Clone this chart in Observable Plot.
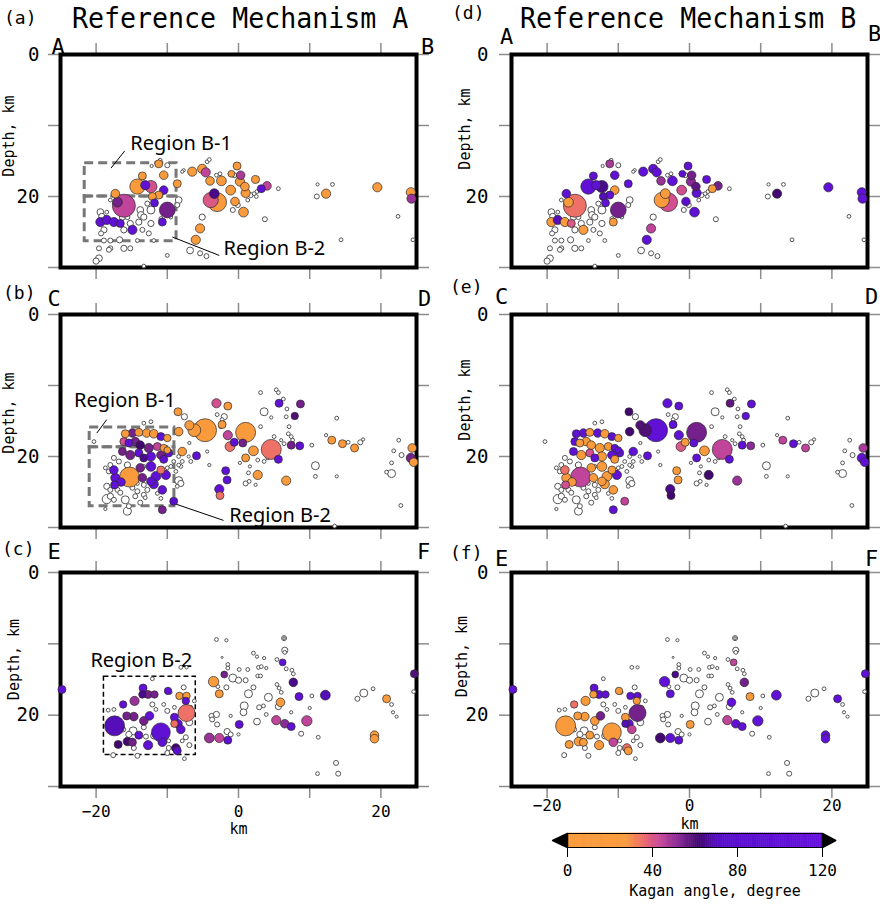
<!DOCTYPE html>
<html><head><meta charset="utf-8">
<script src="https://cdn.jsdelivr.net/npm/d3@7"></script>
<script src="https://cdn.jsdelivr.net/npm/@observablehq/plot@0.6"></script>
<style>
body{margin:0;background:#fff;}
#page{position:relative;width:880px;height:904px;overflow:hidden;font-family:"DejaVu Sans Mono",monospace;color:#000;}
.abs{position:absolute;white-space:nowrap;line-height:1.2;}
.title{font-size:28px;transform-origin:left top;transform:scaleX(0.95);}
.plab{font-size:18px;}
</style></head><body><div id="page"></div>
<script>
// ---------------- DATA ----------------
const xTicks = [-20, -10, 0, 10, 20];
const depthTicks = [0, 10, 20, 30];
const depthLabels = [0, 20];
const bottomLabels = [-20, 0, 20];
const kaganTicks = [0, 40, 80, 120];
const kaganDomain = [0, 28, 36, 44, 52, 62, 72, 120];

// Row 1 (A-B section): events with mechanisms
const row1X = [19.5,24.2,24.3,12.3,-3.0,-3.9,-3.4,-6.5,-5.1,-4.6,-4.0,-2.4,-1.1,-0.5,0.7,-0.2,0.3,0.2,0.9,2.4,3.2,4.0,-1.0,1.0,-5.4,-6.0,-11.2,-10.5,-8.6,-14.2,-12.3,-16.1,-17.3,-17.0,-10.5,-11.2,-10.0,-10.7,-14.9,-19.4,-18.5,-17.5,-16.6,-13.5,-12.1,-11.8,-13.1];
const row1Depth = [18.7,19.4,20.3,19.6,20.8,20.5,19.6,16.5,16.1,16.6,17.8,17.8,19.1,20.7,22.2,15.7,17.0,17.9,18.6,17.6,18.9,18.5,16.8,19.5,24.5,26.1,15.4,17.0,18.2,18.6,18.6,21.3,19.6,20.8,19.1,19.8,21.9,23.6,24.7,23.6,23.3,23.6,23.8,17.1,20.0,20.9,18.4];
const row1Mag = [2.2,2.2,2.2,2.2,3.8,3.2,2.3,2.2,2.2,2.2,2.1,2.3,2.3,2.1,2.3,2.0,2.1,2.2,2.1,2.0,2.0,2.1,1.8,2.2,2.2,2.2,2.0,2.1,2.0,3.2,2.7,4.5,2.1,2.3,2.1,2.0,3.3,2.0,2.2,2.2,2.2,2.2,2.0,2.0,2.0,2.0,2.2];
const row1KaganA = [10,8,50,10,8,40,65,10,12,45,10,10,12,10,8,12,48,10,10,12,100,45,15,10,10,10,12,15,10,10,42,45,10,55,100,12,55,100,100,100,100,100,100,12,10,100,100];
const row1KaganB = [100,95,110,62,42,10,12,100,100,100,50,100,42,75,100,100,55,52,58,100,10,55,90,100,45,100,48,100,100,100,65,35,100,10,12,100,55,10,10,10,70,10,40,100,70,100,100];
// Row 1 events without mechanism
const row1GrayX = [-19.4,-19.2,-16.3,-13.8,-12.3,-15.2,-14.0,-15.6,-18.9,-18.0,-16.7,-16.1,-15.2,-19.6,-18.0,-19.6,-20.0,-10.0,-14.2,-11.9,-12.3,-13.5,-12.6,-13.3,-12.8,-10.9,-9.5,-8.4,-8.6,-18.0,-18.5,-10.0,-11.0,-6.8,-5.4,-4.5,-13.3,-5.1,-0.6,1.7,2.2,1.3,-0.1,-0.8,-2.6,-4.4,-4.1,-7.7,5.6,3.7,11.1,13.2,11.0,22.4,14.4,24.5,-13.7,-18.2,-18.9,-19.3,-16.1,-12.2,-7.9,-3.1,-1.2,2.6,2.5];
const row1GrayDepth = [22.2,22.8,22.9,21.9,21.9,23.8,23.6,22.9,26.2,26.2,26.1,27.3,27.3,27.3,27.3,28.7,29.1,28.3,26.2,26.2,23.8,24.7,25.2,22.9,21.0,23.1,22.9,20.5,21.2,20.5,22.2,15.6,14.9,27.6,28.0,28.4,29.8,22.9,17.0,19.8,19.6,20.5,21.2,21.9,16.8,15.1,14.8,16.3,18.9,23.2,18.3,18.3,20.0,22.8,26.1,26.1,22.6,27.5,24.7,25.2,24.7,15.7,16.5,17.0,16.8,19.3,20.0];
const row1GrayMag = [1.8,1.7,1.7,1.8,2.0,1.7,1.7,1.5,1.5,1.5,1.7,1.7,1.5,1.5,1.5,1.8,1.7,1.3,1.3,1.3,1.7,1.5,1.5,1.7,1.5,1.3,1.3,1.8,1.5,1.3,1.3,1.5,1.3,1.8,1.5,1.5,1.3,1.7,1.5,1.5,1.3,1.3,1.5,1.5,1.3,1.3,1.3,1.2,1.3,1.5,1.2,1.3,1.5,1.3,1.3,1.3,1.8,1.5,1.7,1.5,1.7,1.2,1.2,1.3,1.3,1.3,1.3];

// Row 2 (C-D section)
const row2X = [24.4,24.2,24.6,13.1,14.6,16.3,8.7,5.7,7.9,8.6,5.6,7.4,4.6,2.1,1.0,0.6,1.0,2.7,6.7,-0.6,-1.5,-1.5,-3.1,-2.3,-4.7,-6.2,-8.5,-8.4,-7.9,-5.9,-1.8,-1.6,-2.7,-2.6,-1.2,-6.9,-15.9,-14.9,-14.0,-12.9,-11.9,-10.9,-10.0,-16.1,-15.4,-14.5,-13.8,-12.6,-11.4,-10.5,-10.0,-16.3,-15.2,-14.0,-13.3,-12.3,-10.9,-9.8,-10.5,-17.5,-17.3,-15.3,-13.8,-12.3,-11.6,-10.9,-10.2,-11.9,-10.7,-9.1,-10.7,-12.3,-17.4,-16.5,-13.5];
const row2Depth = [18.8,20.2,20.8,17.7,18.2,18.8,12.6,12.5,14.3,18.5,20.4,18.4,19.0,19.2,16.6,18.1,20.2,22.6,23.4,18.0,17.0,12.9,12.5,15.5,16.3,16.3,13.7,16.5,19.3,19.9,22.0,23.3,24.6,25.5,18.6,15.6,16.8,16.7,16.6,16.7,16.8,17.2,17.4,17.9,18.1,17.9,18.4,18.8,18.6,18.8,19.1,19.3,19.8,19.5,20.2,20.0,19.8,19.5,20.4,21.9,23.0,22.9,21.6,21.4,22.8,21.9,22.6,23.9,24.7,26.3,27.5,23.5,24.0,23.6,23.0];
const row2Mag = [2.1,2.2,2.1,2.0,2.0,2.0,2.0,2.0,1.9,2.0,2.0,2.0,4.0,2.3,4.0,2.0,2.0,2.2,2.2,2.0,2.2,2.0,2.2,2.0,4.5,2.8,2.0,2.1,2.1,2.0,2.0,2.0,2.2,2.0,2.3,2.2,2.0,2.1,2.0,2.1,2.1,2.0,1.9,2.0,2.0,2.1,2.1,2.2,2.0,1.9,1.8,2.0,2.2,2.0,2.0,2.2,2.1,2.0,2.0,2.1,2.2,4.0,2.1,2.3,2.3,2.0,2.2,2.2,2.1,2.0,2.0,2.1,2.0,2.1,2.1];
const row2KaganA = [10,55,10,10,10,10,55,100,60,100,100,55,35,10,10,55,10,10,10,100,45,10,42,10,10,10,10,10,10,100,100,100,100,35,35,10,10,55,10,10,10,100,10,42,100,55,62,55,45,10,10,55,55,100,65,100,55,100,100,100,100,10,55,100,100,35,100,100,100,75,55,100,100,100,55];
const row2KaganB = [48,100,100,45,100,45,100,58,100,52,100,100,45,12,55,100,100,62,50,10,100,100,100,100,100,60,62,62,100,100,10,10,65,62,40,60,100,100,10,100,12,100,15,100,10,10,10,10,10,100,100,100,10,42,100,10,100,100,10,35,10,45,10,10,10,10,100,10,10,45,100,10,42,10,10];
const row2GrayX = [3.6,-2.0,10.8,21.5,-8.4,-18.5,3.1,5.3,5.6,6.3,6.8,6.7,4.6,7.1,7.0,7.4,7.6,6.0,6.4,10.3,13.8,12.3,17.5,15.4,17.1,22.5,21.8,22.9,21.5,20.8,22.8,13.5,13.8,10.8,1.0,1.5,1.4,2.4,1.6,0.2,3.6,4.1,2.7,5.0,3.1,-2.5,-3.0,-2.3,-4.4,-6.9,-6.7,-7.0,-7.9,-8.1,-4.1,-15.9,-13.8,-18.0,-17.5,-18.5,-18.0,-17.0,-16.6,-14.9,-14.2,-14.5,-13.3,-13.1,-12.8,-13.3,-14.2,-15.6,-16.8,-17.5,-18.0,-18.2,-18.7,-13.3,-10.0,-9.5,-9.1,-8.4,-8.8,-8.4,-20.3,-12.3,-13.3,-11.4,-10.9,-8.6,-8.1,-15.4,-15.6,-18.7,-7.6];
const row2GrayDepth = [13.7,14.4,21.3,22.4,23.4,26.0,11.0,10.6,11.0,11.9,13.3,14.4,14.5,15.8,16.8,17.2,17.7,17.7,18.2,18.4,14.6,17.0,17.6,18.0,18.0,17.7,19.2,19.8,20.9,22.2,26.9,29.8,22.8,22.8,23.8,23.5,22.3,24.0,21.4,20.9,20.7,20.2,20.5,17.2,15.8,15.8,14.1,14.8,19.3,18.1,20.7,20.0,20.7,21.4,21.2,26.1,26.5,25.6,26.1,24.2,24.7,24.7,25.1,24.4,24.9,25.6,25.4,25.8,24.7,24.0,23.8,21.2,20.7,20.2,21.2,22.1,21.6,21.4,21.6,21.4,20.7,21.2,22.1,20.0,17.9,15.1,15.3,25.2,25.9,24.2,23.8,27.0,27.7,27.4,14.4];
const row2GrayMag = [2.0,1.7,2.0,2.0,2.0,2.2,1.3,1.3,1.3,1.3,1.3,1.3,1.2,1.3,1.3,1.3,1.3,1.2,1.3,1.3,1.3,1.2,1.2,1.3,1.5,1.3,1.3,1.5,1.3,1.3,1.3,1.3,1.2,1.3,1.5,1.3,1.3,1.2,1.2,1.2,1.3,1.3,1.3,1.3,1.3,1.3,1.3,1.3,1.2,1.2,1.3,1.2,1.3,1.3,1.2,2.0,1.5,1.7,1.5,1.7,1.5,1.5,1.5,1.5,1.5,1.5,1.5,1.3,1.5,1.5,1.3,1.7,1.5,1.5,1.5,1.5,1.3,1.3,1.3,1.3,1.3,1.3,1.3,1.3,1.3,1.3,1.3,1.3,1.3,1.3,1.7,1.5,2.0,1.2,1.7];

// Row 3 (E-F section)
const row3X = [-24.8,24.7,20.8,19.1,19.1,12.2,8.5,7.7,6.2,5.9,5.3,6.5,7.4,9.6,0.1,-3.5,-2.7,-2.0,-4.1,-2.7,-1.5,-13.4,-16.2,-14.6,-13.5,-12.7,-11.8,-9.9,-8.3,-7.3,-7.4,-17.4,-15.7,-14.7,-13.3,-12.5,-10.9,-9.0,-8.5,-8.1,-9.0,-7.3,-14.0,-16.9,-15.6,-14.9,-12.7,-8.8,-8.6,-10.7];
const row3Depth = [16.4,14.2,17.7,22.8,23.3,17.2,17.4,15.4,12.6,18.2,20.7,21.2,21.6,20.8,21.3,15.3,17.0,14.3,23.2,23.2,23.5,16.2,18.5,18.0,17.1,17.1,17.1,16.6,17.3,17.3,18.0,21.5,20.1,20.2,20.8,20.1,22.4,20.3,21.2,22.0,21.2,19.7,22.8,24.1,23.7,23.8,24.2,24.6,25.0,23.8];
const row3Mag = [2.0,2.0,2.0,2.1,2.1,2.3,2.0,2.1,1.8,2.1,2.2,2.1,2.0,2.4,2.0,2.4,2.0,1.8,2.3,2.2,2.0,2.0,1.9,2.2,1.9,2.0,1.9,1.9,1.9,1.9,1.9,4.0,2.0,2.1,2.1,2.1,3.8,2.0,2.1,2.1,1.9,3.5,2.0,2.0,2.1,2.0,2.2,2.1,2.0,2.1];
const row3KaganA = [100,60,10,10,10,70,100,65,100,10,45,52,100,45,100,10,10,55,50,45,100,100,100,50,65,55,55,100,10,10,100,70,55,55,55,100,100,100,100,100,35,35,100,62,62,55,100,62,75,100];
const row3KaganB = [100,100,100,100,100,100,10,55,45,100,45,100,100,100,10,100,100,65,62,100,100,100,35,10,10,100,100,10,100,100,10,20,10,10,10,55,10,10,100,45,70,55,10,10,10,10,10,35,10,45];
const row3GrayX = [-3.1,-1.7,6.4,6.4,6.5,6.5,2.1,2.6,3.6,-2.3,5.4,-1.5,-1.5,0.1,1.3,2.8,3.2,2.7,3.1,3.9,6.7,7.5,7.7,-0.8,0.0,1.0,-1.7,-2.9,2.1,1.4,4.2,5.4,5.7,6.0,2.9,3.5,0.8,0.7,2.6,3.9,5.6,7.4,10.0,10.3,8.8,11.2,13.7,11.1,14.0,16.7,17.6,18.9,21.5,21.7,22.2,24.6,-3.8,-3.1,-3.7,-3.0,-1.1,-1.6,-1.1,0.0,-7.6,-17.5,-18.3,-17.6,-14.2,-14.8,-15.4,-11.9,-10.5,-9.8,-9.8,-10.0,-12.1,-11.6,-10.5,-10.0,-9.0,-7.7,-6.7,-6.9,-6.2,-6.9,-9.6,-8.1,-7.3,-12.1,-14.7,-14.9,-13.3,-7.4,-7.9,-16.2,-13.0];
const row3GrayDepth = [9.4,9.5,9.2,9.2,10.9,11.2,11.3,11.8,12.0,11.9,12.2,12.9,13.4,13.6,13.6,13.3,13.2,14.5,14.5,13.4,13.5,13.7,14.2,14.8,15.1,15.1,16.1,16.0,16.1,17.0,17.5,15.7,16.2,16.8,18.9,18.7,18.7,19.6,20.9,19.9,18.8,19.6,19.0,17.3,22.6,23.1,26.7,28.2,28.2,17.7,16.9,16.3,18.5,19.6,20.2,16.7,20.1,19.9,20.6,21.3,20.1,22.3,22.7,22.7,26.1,19.2,19.3,25.6,25.7,22.2,22.7,22.9,23.6,23.6,24.6,25.3,18.5,19.2,18.5,19.4,18.9,16.1,18.9,21.0,18.0,24.2,16.8,13.3,13.3,14.9,24.6,23.5,21.7,23.1,23.6,22.0,23.0];
const row3GrayMag = [1.3,1.2,1.5,1.1,1.7,1.3,1.3,1.2,1.2,1.0,1.3,1.3,1.3,1.3,1.3,1.3,1.3,1.3,1.3,1.2,1.3,1.3,1.3,2.0,1.7,1.5,1.5,1.3,1.5,2.0,2.0,1.3,1.3,1.3,1.5,1.3,2.0,1.8,1.8,1.3,1.7,1.2,1.2,1.3,1.5,1.3,1.5,1.3,1.5,1.5,2.0,1.3,1.3,1.2,1.2,1.3,1.5,1.7,1.5,1.5,1.2,1.7,1.5,1.2,1.3,1.3,1.3,1.5,1.5,2.0,1.7,1.7,1.7,1.3,1.5,1.5,1.5,1.3,1.3,1.5,1.3,1.5,1.3,1.8,1.3,1.5,1.3,1.3,1.2,1.3,1.5,1.3,1.5,1.5,1.3,1.5,1.5];

// Region boxes [x1, x2, depthTop, depthBottom]
const boxesRow1 = [[-21.6, -8.7, 15.3, 20.0], [-21.6, -8.7, 20.0, 26.3]];
const boxesRow2 = [[-20.9, -9.0, 15.9, 18.7], [-20.9, -9.0, 18.7, 27.0]];
const boxesRow3 = [[-18.9, -6.0, 14.6, 25.6]];
// Region labels [text, x, depth] and leader lines [x1, d1, x2, d2]
const notesRow1 = [["Region B-1", -15.2, 12.5], ["Region B-2", -2.1, 27.3]];
const leadersRow1 = [[-16.0, 13.6, -17.9, 16.0], [-9.3, 25.7, -2.7, 28.3]];
const notesRow2 = [["Region B-1", -23.1, 12.1], ["Region B-2", -1.3, 28.3]];
const leadersRow2 = [[-18.5, 14.8, -19.9, 16.7], [-9.1, 26.6, -2.1, 29.0]];
const notesRow3 = [["Region B-2", -20.8, 12.4]];

// ---------------- RENDER ----------------
const kaganColors = ["#f99b3d","#f99b3d","#ec6b6e","#c9479b","#8a2c97","#430870","#5a0fcc","#6613dd"];
const colorSpec = {type: "linear", domain: kaganDomain, range: kaganColors};
const mono = "DejaVu Sans Mono";
const fmt = d => d < 0 ? "\u2212" + (-d) : String(d);

function events(X, D, M, K) {
  const n = Math.min(X.length, D.length, M.length, K ? K.length : Infinity);
  return d3.range(n).map(i => ({x: X[i], d: D[i], m: M[i], k: K ? K[i] : null}));
}

function panel(c) {
  const mt = 40;
  const height = mt + c.fh + c.mb;
  const marks = [
    Plot.axisX({anchor: "top", ticks: xTicks, tickSize: 12, tickFormat: () => "", stroke: "#8c8c8c", strokeWidth: 1.5, label: null}),
    c.bottomLabels
      ? Plot.axisX({anchor: "bottom", ticks: xTicks, tickSize: 12, tickPadding: c.bottomPad, tickFormat: d => bottomLabels.includes(d) ? fmt(d) : "", stroke: "#8c8c8c", strokeWidth: 1.5, fill: "black", fontSize: 16, fontFamily: mono, label: null})
      : Plot.axisX({anchor: "bottom", ticks: xTicks, tickSize: 12, tickFormat: () => "", stroke: "#8c8c8c", strokeWidth: 1.5, label: null}),
    Plot.axisY({anchor: "left", ticks: depthTicks, tickSize: 12, tickPadding: c.tickPad, tickFormat: d => depthLabels.includes(d) ? String(d) : "", stroke: "#8c8c8c", strokeWidth: 1.5, fill: "black", fontSize: 19, fontFamily: mono, label: null}),
    Plot.axisY({anchor: "right", ticks: depthTicks, tickSize: 12, tickFormat: () => "", stroke: "#8c8c8c", strokeWidth: 1.5, label: null})
  ];
  if (c.boxes) marks.push(Plot.rect(c.boxes, {x1: b => b[0], x2: b => b[1], y1: b => b[2], y2: b => b[3], fill: "none", stroke: c.boxStroke, strokeWidth: c.boxWidth, strokeDasharray: c.boxDash}));
  if (c.leaders) marks.push(Plot.link(c.leaders, {x1: l => l[0], y1: l => l[1], x2: l => l[2], y2: l => l[3], stroke: "black", strokeWidth: 1}));
  if (c.notes) marks.push(Plot.text(c.notes, {x: n => n[1], y: n => n[2], text: n => n[0], textAnchor: "start", fontSize: 20, fontFamily: "Noto Sans", fill: "black"}));
  marks.push(Plot.frame({stroke: "black", strokeWidth: 4}));
  marks.push(Plot.dot(c.gray, {x: "x", y: "d", r: "m", fill: "white", stroke: "#555", strokeWidth: 1}));
  marks.push(Plot.dot(c.colored, {x: "x", y: "d", r: "m", fill: "k", stroke: "#2a2a2a", strokeWidth: 0.7}));
  marks.push(Plot.text([c.letters[0]], {frameAnchor: "top-left", text: d => d, dx: c.ld[0], dy: c.ld[1], textAnchor: "middle", lineAnchor: "bottom", fontSize: 22, fontFamily: mono}));
  marks.push(Plot.text([c.letters[1]], {frameAnchor: "top-right", text: d => d, dx: c.rd[0], dy: c.rd[1], textAnchor: "middle", lineAnchor: "bottom", fontSize: 22, fontFamily: mono}));
  marks.push(Plot.text(["Depth, km"], {frameAnchor: "left", text: d => d, rotate: -90, dx: c.depthDx, dy: c.depthDy, textAnchor: "middle", lineAnchor: "middle", fontSize: 15, fontFamily: mono}));
  if (c.bottomLabels) marks.push(Plot.text(["km"], {frameAnchor: "bottom", text: d => d, dy: c.kmDy, lineAnchor: "middle", fontSize: 15, fontFamily: mono}));
  const svg = Plot.plot({
    width: 440, height,
    marginLeft: c.ml, marginRight: c.mr, marginTop: mt, marginBottom: c.mb,
    x: {domain: [-25, 25]},
    y: {domain: [0, 30], reverse: true},
    r: {type: "linear", domain: [1, 5], range: [1, 13]},
    color: colorSpec,
    style: {fontFamily: mono, background: "transparent", overflow: "visible", color: "black"},
    marks
  });
  svg.style.position = "absolute";
  svg.style.left = c.left + "px";
  svg.style.top = (c.frameTop - mt) + "px";
  return svg;
}

const page = document.getElementById("page");
const rowsData = [
  {col: events(row1X, row1Depth, row1Mag), gray: events(row1GrayX, row1GrayDepth, row1GrayMag), kA: row1KaganA, kB: row1KaganB},
  {col: events(row2X, row2Depth, row2Mag), gray: events(row2GrayX, row2GrayDepth, row2GrayMag), kA: row2KaganA, kB: row2KaganB},
  {col: events(row3X, row3Depth, row3Mag), gray: events(row3GrayX, row3GrayDepth, row3GrayMag), kA: row3KaganA, kB: row3KaganB}
];
function withK(col, K) { return col.map((e, i) => ({...e, k: K[i]})).filter(e => e.k != null); }

const configs = [
  {row: 0, mech: "A", left: 0, ml: 60, mr: 24, frameTop: 54, fh: 213, mb: 20, tickPad: 9, letters: ["A","B"], ld: [-2.5,-1], rd: [11,-1], depthDx: -51.5, depthDy: -25,
   boxes: boxesRow1, boxStroke: "#777", boxWidth: 3, boxDash: "9,5", notes: notesRow1, leaders: leadersRow1},
  {row: 0, mech: "B", left: 440, ml: 71, mr: 13, frameTop: 54, fh: 213, mb: 20, tickPad: 11, letters: ["A","B"], ld: [-5,-11], rd: [7,-14], depthDx: -46, depthDy: -32},
  {row: 1, mech: "A", left: 0, ml: 60, mr: 24, frameTop: 314, fh: 213, mb: 20, tickPad: 9, letters: ["C","D"], ld: [-6.5,-9], rd: [8,-9], depthDx: -51, depthDy: -8,
   boxes: boxesRow2, boxStroke: "#777", boxWidth: 3, boxDash: "9,5", notes: notesRow2, leaders: leadersRow2},
  {row: 1, mech: "B", left: 440, ml: 71, mr: 13, frameTop: 314, fh: 213, mb: 20, tickPad: 11, letters: ["C","D"], ld: [-10,-11], rd: [4,-11], depthDx: -46, depthDy: -21},
  {row: 2, mech: "A", left: 0, ml: 60, mr: 24, frameTop: 572, fh: 214, mb: 60, tickPad: 9, letters: ["E","F"], ld: [-6.5,-14], rd: [7,-14], depthDx: -46.5, depthDy: -20,
   boxes: boxesRow3, boxStroke: "black", boxWidth: 1.5, boxDash: "5,3", notes: notesRow3, bottomLabels: true, bottomPad: 7, kmDy: 43},
  {row: 2, mech: "B", left: 440, ml: 71, mr: 13, frameTop: 572, fh: 214, mb: 60, tickPad: 11, letters: ["E","F"], ld: [-10,-7], rd: [4,-7], depthDx: -49, depthDy: -23,
   bottomLabels: true, bottomPad: 1, kmDy: 38}
];
for (const c of configs) {
  const rd = rowsData[c.row];
  c.colored = withK(rd.col, c.mech === "A" ? rd.kA : rd.kB);
  c.gray = rd.gray;
  page.appendChild(panel(c));
}

// Colorbar
const cb = Plot.plot({
  width: 320, height: 79, marginLeft: 27, marginRight: 38, marginTop: 8, marginBottom: 57,
  x: {domain: [0, 120]}, y: {domain: [0, 1], axis: null},
  color: colorSpec,
  style: {fontFamily: mono, background: "transparent", overflow: "visible", color: "black"},
  marks: [
    Plot.rect(d3.range(0, 120, 1), {x1: d => d, x2: d => d + 1, y1: 0, y2: 1, fill: d => d + 0.5, stroke: d => d + 0.5, strokeWidth: 0.6}),
    Plot.line([[0, 0], [-7, 0.5], [0, 1], [0, 0]], {x: p => p[0], y: p => p[1], fill: "black", stroke: "black"}),
    Plot.line([[120, 0], [126.2, 0.5], [120, 1], [120, 0]], {x: p => p[0], y: p => p[1], fill: "black", stroke: "black"}),
    Plot.frame({stroke: "black", strokeWidth: 1}),
    Plot.axisX({ticks: kaganTicks, tickSize: 10, tickPadding: 7, fontSize: 16, fontFamily: mono, stroke: "black", fill: "black", label: null}),
    Plot.text(["Kagan angle, degree"], {frameAnchor: "bottom", text: d => d, dx: 20, dy: 48, fontSize: 15, fontFamily: mono})
  ]
});
cb.style.position = "absolute"; cb.style.left = "540px"; cb.style.top = "825px";
page.appendChild(cb);

// Titles and panel letters
const labels = [
  ["(a)", 4, 7, "plab"], ["(b)", 3, 282, "plab"], ["(c)", 2, 538, "plab"],
  ["(d)", 452, 2, "plab"], ["(e)", 450, 276, "plab"], ["(f)", 450, 542, "plab"],
  ["Reference Mechanism A", 72, 2, "title"], ["Reference Mechanism B", 520, 2, "title"]
];
for (const [t, x, y, cls] of labels) {
  const el = document.createElement("div");
  el.className = "abs " + cls;
  el.style.left = x + "px"; el.style.top = y + "px";
  el.textContent = t;
  page.appendChild(el);
}
</script></body></html>
